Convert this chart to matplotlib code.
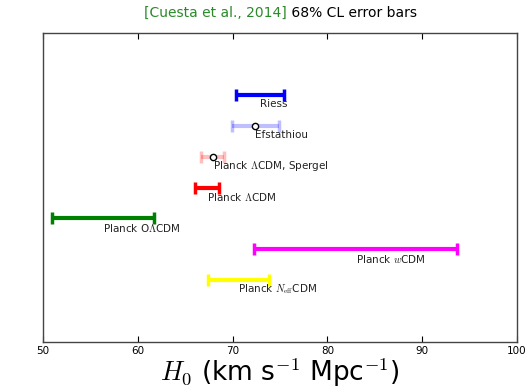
import numpy as np
import matplotlib
matplotlib.use('Agg')
import matplotlib.pyplot as plt

# H0 measurements, 68% CL
labels = ['Riess', 'Efstathiou', r'Planck $\Lambda$CDM, Spergel', r'Planck $\Lambda$CDM',
          r'Planck O$\Lambda$CDM', r'Planck $w$CDM', r'Planck $N_{\rm eff}$CDM']
h0 = [72.9, 72.4, 67.9, 67.3, 56.3, 83.0, 70.6]
err = [2.5, 2.5, 1.2, 1.3, 5.4, 10.7, 3.2]
colors = ['blue', 'blue', 'red', 'red', 'green', 'magenta', 'yellow']
alphas = [1, 0.25, 0.25, 1, 1, 1, 1]
has_marker = [False, True, True, False, False, False, False]

plt.rcParams['font.family'] = ['DejaVu Sans']
plt.rcParams['mathtext.fontset'] = 'cm'

fig = plt.figure(figsize=(5.27, 3.89), dpi=100)
ax = fig.add_axes([43/527, 1-342/389, 474/527, 309/389])

ypos = np.arange(len(h0), 0, -1)
for i in range(len(h0)):
    ax.errorbar(h0[i], ypos[i], xerr=err[i], color=colors[i], alpha=alphas[i],
                lw=3, capsize=4, capthick=2.5, fmt='none')
    if has_marker[i]:
        ax.plot(h0[i], ypos[i], 'o', mfc='white', mec='k', ms=4.5, mew=1)
    ax.text(h0[i], ypos[i] - 0.3, labels[i], fontsize=7.5, ha='left', va='center',
            color='#222222')

ax.set_xlim(50, 100)
ax.set_ylim(-1, 9)
ax.set_yticks([])
ax.set_xticks([50, 60, 70, 80, 90, 100])
ax.tick_params(axis='x', direction='in', top=True, labelsize=7.5, length=4, pad=3)
for s in ax.spines.values():
    s.set_color('#444444')
    s.set_linewidth(1)

ax.set_xlabel(r'$H_0$ (km s$^{-1}$ Mpc$^{-1}$)', fontsize=19, labelpad=0)

fig.text(287/527, 1-13/389, '[Cuesta et al., 2014]', color='#2a8a2a', fontsize=10,
         ha='right', va='center')
fig.text(287/527, 1-13/389, ' 68% CL error bars', color='black', fontsize=10,
         ha='left', va='center')

plt.savefig('out.png', dpi=100)
